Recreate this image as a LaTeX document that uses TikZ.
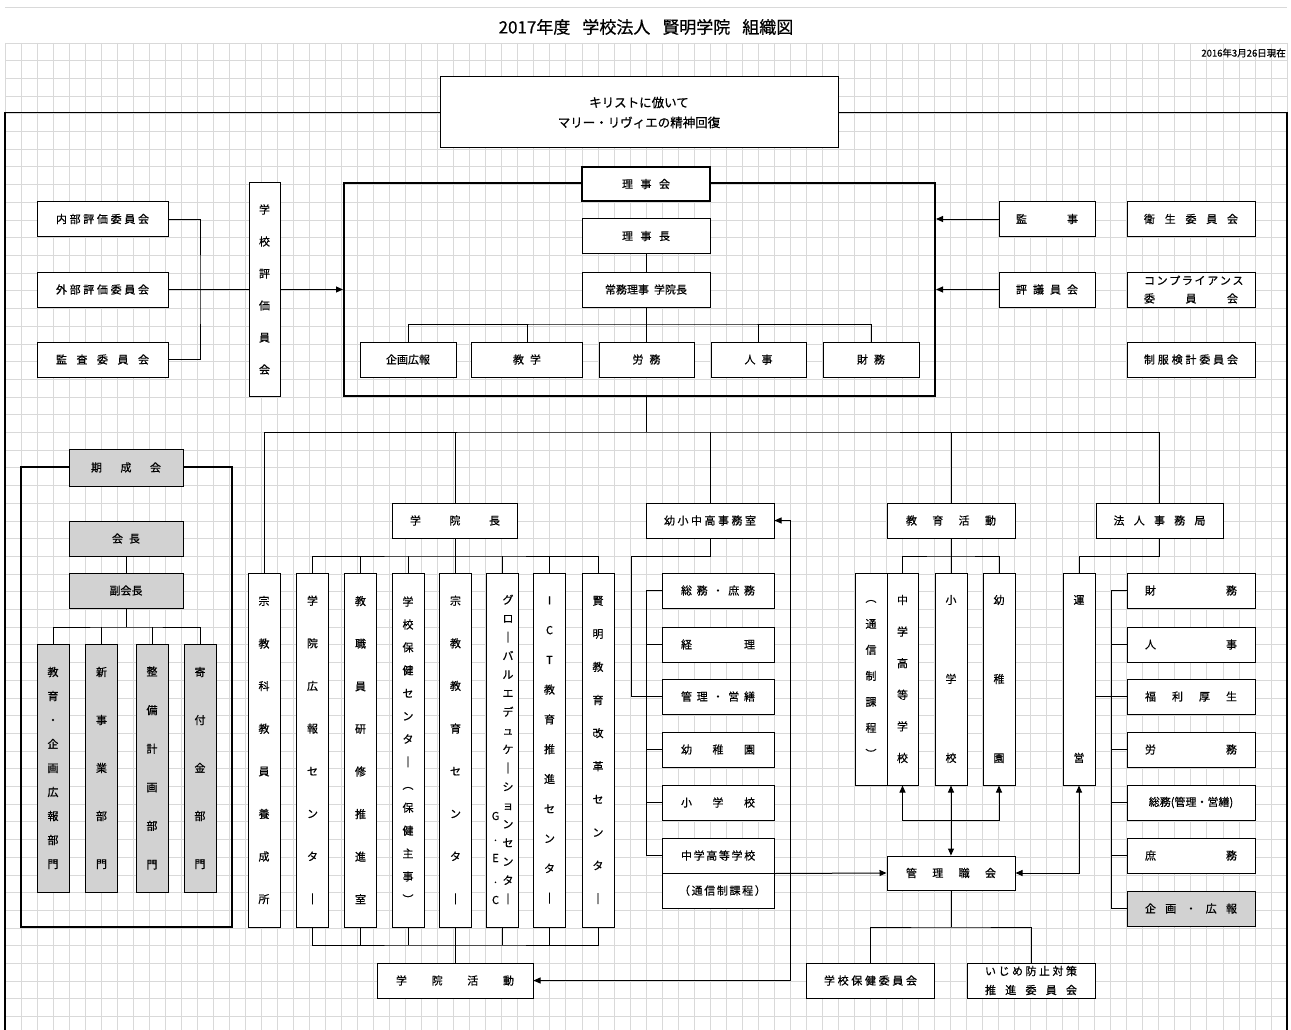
\documentclass[tikz,border=0pt]{standalone}
\usepackage{fontspec}
\setmainfont{Noto Sans CJK JP}[FakeBold=0.6]
\usepackage{tikz}
\usetikzlibrary{arrows.meta,calc}
\definecolor{cGrid}{HTML}{D9D9D9}
\definecolor{cShade}{HTML}{D2D2D2}
\newcommand{\spr}[2]{\makebox[#1][s]{#2}}
\tikzset{
  node-box/.style={draw,line width=1pt,fill=white,inner sep=0pt,align=center,
    minimum height=35pt,font=\fontsize{11}{14}\selectfont},
  node-bold/.style={node-box,line width=2pt},
  node-shade/.style={node-box,fill=cShade},
  node-frame/.style={draw,line width=2pt,inner sep=0pt},
  node-col/.style={node-box,minimum width=32pt},
  node-label/.style={inner sep=0pt,align=center},
  vt/.style={font=\fontsize{11}{#1}\selectfont},
  link/.style={line width=1pt},
  arrow/.style={link,-{Triangle[length=7pt,width=6pt]}},
  arrow-both/.style={link,{Triangle[length=7pt,width=6pt]}-{Triangle[length=7pt,width=6pt]}},
}

\begin{document}
\begin{tikzpicture}[x=1pt,y=-1pt]
  \useasboundingbox (0,0) rectangle (1291,1030);
  % grid
  \foreach \i in {0,...,80}
    \draw[cGrid,line width=0.8pt] ({5+16.025*\i},43) -- ({5+16.025*\i},1030);
  \foreach \j in {0,...,55}
    \draw[cGrid,line width=0.8pt] (5,{43+17.7*\j}) -- (1287,{43+17.7*\j});
  \draw[cGrid,line width=0.8pt] (5,7) -- (1287,7);

  % heading
  \node[node-label,font=\fontsize{17}{20}\selectfont] (title) at (646,27)
    {2017年度\hspace{12pt}学校法人\hspace{12pt}賢明学院\hspace{12pt}組織図};
  \node[node-label,font=\fontsize{9.5}{10}\selectfont,anchor=east] (date) at (1286,53)
    {2016年3月26日現在};
  \node[node-box,minimum width=398pt,minimum height=71pt,font=\fontsize{12.5}{20}\selectfont]
    (motto) at (639,112.5) {キリストに倣いて\\マリー・リヴィエの精神回復};
  \draw[line width=1.2pt] (motto.west) -- (5,112.5) -- (5,1030);
  \draw[line width=1.2pt] (motto.east) -- (1287,112.5) -- (1287,1030);

  % board
  \node[node-frame,minimum width=591pt,minimum height=213pt] (board) at (639.5,289.5) {};
  \node[node-bold,minimum width=128pt,minimum height=34pt] (rijikai) at (646,184) {\spr{48pt}{理 事 会}};
  \node[node-box,minimum width=128pt] (richo) at (646,236) {\spr{48pt}{理 事 長}};
  \node[node-box,minimum width=128pt] (jomu) at (646,289.5) {常務理事\hspace{5pt}学院長};
  \node[node-box,minimum width=96pt] (kikaku) at (408,359.5) {企画広報};
  \node[node-box,minimum width=111pt] (kyogaku) at (527,359.5) {\spr{28pt}{教 学}};
  \node[node-box,minimum width=95pt] (romu) at (646.5,359.5) {\spr{28pt}{労 務}};
  \node[node-box,minimum width=95pt] (jinji) at (758.5,359.5) {\spr{28pt}{人 事}};
  \node[node-box,minimum width=96pt] (zaimu) at (871,359.5) {\spr{28pt}{財 務}};
  \coordinate (jomu-bar) at (646,324);
  \draw[link] (richo) -- (jomu);
  \draw[link] (jomu.south) -- (jomu-bar);
  \draw[link] (kikaku.north) |- (jomu-bar) -| (zaimu.north);
  \foreach \n in {kyogaku,romu,jinji}
    \draw[link] (\n.north) -- (\n.north|-jomu-bar);

  % evaluation
  \node[node-box,minimum width=131pt] (naibu) at (102.5,219) {\spr{93pt}{内 部 評 価 委 員 会}};
  \node[node-box,minimum width=131pt] (gaibu) at (102.5,289.5) {\spr{93pt}{外 部 評 価 委 員 会}};
  \node[node-box,minimum width=131pt] (kansa) at (102.5,359.5) {\spr{93pt}{監 査 委 員 会}};
  \node[node-box,minimum width=31pt,minimum height=213pt,vt=32] (hyoka) at (264.5,289.5)
    {学\\校\\評\\価\\員\\会};
  \coordinate (hyoka-join) at (200,289.5);
  \draw[link] (naibu.east) -| (hyoka-join) |- (kansa.east);
  \draw[link] (gaibu.east) -- (hyoka.west);
  \draw[arrow] (hyoka.east) -- (board.west);

  % right side
  \node[node-box,minimum width=96pt] (kanji) at (1047,219) {\spr{62pt}{監 事}};
  \node[node-box,minimum width=96pt] (hyogi) at (1047,289.5) {\spr{62pt}{評 議 員 会}};
  \node[node-box,minimum width=128pt] (eisei) at (1191,219) {\spr{94pt}{衛 生 委 員 会}};
  \node[node-box,minimum width=128pt,font=\fontsize{11}{18}\selectfont] (compliance) at (1191,289.5)
    {\spr{94pt}{コ ン プ ラ イ ア ン ス}\\\spr{94pt}{委 員 会}};
  \node[node-box,minimum width=128pt] (seifuku) at (1191,359.5) {\spr{94pt}{制 服 検 計 委 員 会}};
  \draw[arrow] (kanji.west) -- (board.east|-kanji.west);
  \draw[arrow] (hyogi.west) -- (board.east|-hyogi.west);

  % second level
  \node[node-col,minimum height=354pt,vt=42.6] (shukyo) at (264,750)
    {宗\\教\\科\\教\\員\\養\\成\\所};
  \node[node-box,minimum width=125pt] (gakuincho) at (455,520.5) {\spr{90pt}{学 院 長}};
  \node[node-box,minimum width=128pt] (jimu) at (710,520.5) {\spr{92pt}{幼 小 中 高 事 務 室}};
  \node[node-box,minimum width=128pt] (kyoiku) at (951,520.5) {\spr{90pt}{教 育 活 動}};
  \node[node-box,minimum width=127pt] (hojin) at (1159.5,520.5) {\spr{92pt}{法 人 事 務 局}};
  \coordinate (bus) at (646,432);
  \draw[link] (bus|-board.south) -- (bus);
  \draw[link] (shukyo.north) |- (bus) -| (hojin.north);
  \foreach \n in {gakuincho,jimu,kyoiku}
    \draw[link] (\n.north) -- (\n.north|-bus);

  % gakuincho
  \node[node-col,minimum height=354pt,vt=42.6] (koho) at (312.5,750) {学\\院\\広\\報\\セ\\ン\\タ\\｜};
  \node[node-col,minimum height=354pt,vt=42.6] (kenshu) at (360.5,750) {教\\職\\員\\研\\修\\推\\進\\室};
  \node[node-col,minimum height=354pt,vt=22.9] (hokenc) at (408,750)
    {学\\校\\保\\健\\セ\\ン\\タ\\｜\\︵\\保\\健\\主\\事\\︶};
  \node[node-col,minimum height=354pt,vt=42.6] (shukyoc) at (455.5,750) {宗\\教\\教\\育\\セ\\ン\\タ\\｜};
  \node[node-col,minimum height=354pt] (gec) at (502.5,750) {};
  \node[node-label,vt=18.7] (gec-kana) at (508,749.5)
    {グ\\ロ\\｜\\バ\\ル\\エ\\デ\\ュ\\ケ\\｜\\シ\\ョ\\ン\\セ\\ン\\タ\\｜};
  \node[node-label,vt=21] (gec-abbr) at (495.5,858) {G\\.\\E\\.\\C};
  \node[node-col,minimum height=354pt,vt=29.8] (ict) at (549.5,750) {I\\C\\T\\教\\育\\推\\進\\セ\\ン\\タ\\｜};
  \node[node-col,minimum height=354pt,vt=33.1] (kaikaku) at (598,750) {賢\\明\\教\\育\\改\\革\\セ\\ン\\タ\\｜};
  \node[node-box,minimum width=156pt] (katsudo) at (455,980.5) {\spr{118pt}{学 院 活 動}};
  \coordinate (gk-bar) at (455,556);
  \coordinate (gk-low) at (455,945);
  \draw[link] (gakuincho.south) -- (gk-bar);
  \draw[link] (koho.north) |- (gk-bar) -| (kaikaku.north);
  \draw[link] (koho.south) |- (gk-low) -| (kaikaku.south);
  \foreach \n in {kenshu,hokenc,shukyoc,gec,ict} {
    \draw[link] (\n.north) -- (\n.north|-gk-bar);
    \draw[link] (\n.south) -- (\n.south|-gk-low);
  }
  \draw[link] (gk-low) -- (katsudo.north);

  % jimu
  \node[node-box,minimum width=112pt] (somu) at (718,590.5) {\spr{74pt}{総 務 ・ 庶 務}};
  \node[node-box,minimum width=112pt] (keiri) at (718,644.5) {\spr{74pt}{経 理}};
  \node[node-box,minimum width=112pt] (kanri) at (718,696.5) {\spr{74pt}{管 理 ・ 営 繕}};
  \node[node-box,minimum width=112pt] (yochien) at (718,749.5) {\spr{74pt}{幼 稚 園}};
  \node[node-box,minimum width=112pt] (shogakko) at (718,802.5) {\spr{74pt}{小 学 校}};
  \node[node-box,minimum width=112pt] (chugaku) at (718,855.5) {\spr{74pt}{中 学 高 等 学 校}};
  \node[node-box,minimum width=112pt] (tsushin) at (718,890.5) {\spr{78pt}{（ 通 信 制 課 程 ）}};
  \coordinate (jimu-turn) at (631,696.5);
  \coordinate (side-low) at (790,980.5);
  \draw[link] (jimu.south) -- ++(0,17.5) -| (jimu-turn) -- (kanri.west);
  \draw[link] (somu.west) -- ++(-15,0) |- (chugaku.west);
  \foreach \n in {keiri,kanri,yochien,shogakko}
    \draw[link] (\n.west) -- ++(-15,0);
  \draw[arrow-both] (jimu.east) -| (side-low) -- (katsudo.east);

  % kyoiku
  \node[node-col,minimum height=212pt,vt=26] (tsushin-k) at (871,679) {︵\\通\\信\\制\\課\\程\\︶};
  \node[node-col,minimum width=31pt,minimum height=212pt,vt=31.6] (chuko) at (902.5,679) {中\\学\\高\\等\\学\\校};
  \node[node-col,minimum height=212pt,vt=79] (sho) at (951,679) {小\\学\\校};
  \node[node-col,minimum height=212pt,vt=79] (yochi) at (999,679) {幼\\稚\\園};
  \node[node-box,minimum width=128pt,minimum height=34pt] (kanrishoku) at (951,873) {\spr{90pt}{管 理 職 会}};
  \coordinate (ky-bar) at (951,556);
  \coordinate (ky-low) at (951,820);
  \draw[link] (kyoiku.south) -- (ky-bar);
  \draw[link] (chuko.north) |- (ky-bar) -| (yochi.north);
  \draw[link] (sho.north) -- (ky-bar);
  \draw[arrow] (ky-low) -| (chuko.south);
  \draw[arrow] (ky-low) -| (yochi.south);
  \draw[arrow-both] (sho.south) -- (kanrishoku.north);
  \draw[arrow] (chugaku.south east) -- (kanrishoku.west);

  % hojin
  \node[node-col,minimum height=212pt,vt=158] (unei) at (1079,679) {運\\営};
  \node[node-box,minimum width=128pt] (r-zaimu) at (1191,590.5) {\spr{92pt}{財 務}};
  \node[node-box,minimum width=128pt] (r-jinji) at (1191,644.5) {\spr{92pt}{人 事}};
  \node[node-box,minimum width=128pt] (r-fukuri) at (1191,696.5) {\spr{92pt}{福 利 厚 生}};
  \node[node-box,minimum width=128pt] (r-romu) at (1191,749.5) {\spr{92pt}{労 務}};
  \node[node-box,minimum width=128pt] (r-somu) at (1191,802.5) {総務(管理・営繕)};
  \node[node-box,minimum width=128pt] (r-shomu) at (1191,855.5) {\spr{92pt}{庶 務}};
  \node[node-shade,minimum width=128pt] (r-kikaku) at (1191,908.5) {\spr{92pt}{企 画 ・ 広 報}};
  \draw[link] (hojin.south) -- ++(0,17.5) -| (unei.north);
  \draw[link] (r-zaimu.west) -- ++(-15,0) |- (r-kikaku.west);
  \foreach \n in {r-jinji,r-fukuri,r-romu,r-somu,r-shomu}
    \draw[link] (\n.west) -- ++(-15,0);
  \draw[link] (unei.east|-r-fukuri.west) -- (r-fukuri.west);
  \draw[arrow-both] (kanrishoku.east) -| (unei.south);

  % committees below
  \node[node-box,minimum width=128pt] (hoken) at (870.5,980.5) {\spr{93pt}{学 校 保 健 委 員 会}};
  \node[node-box,minimum width=128pt,font=\fontsize{11}{19}\selectfont] (ijime) at (1031,980.5)
    {\spr{92pt}{い じ め 防 止 対 策}\\\spr{92pt}{推 進 委 員 会}};
  \coordinate (kr-bar) at (951,927);
  \draw[link] (kanrishoku.south) -- (kr-bar);
  \draw[link] (hoken.north) |- (kr-bar) -| (ijime.north);

  % kiseikai
  \node[node-frame,minimum width=211pt,minimum height=460pt] (kisei-frame) at (126.5,697) {};
  \node[node-shade,minimum width=114pt,minimum height=37pt] (kiseikai) at (126,467.5) {\spr{70pt}{期 成 会}};
  \node[node-shade,minimum width=114pt] (kaicho) at (126,538.5) {\spr{28pt}{会 長}};
  \node[node-shade,minimum width=114pt] (fukukaicho) at (126,590.5) {副会長};
  \node[node-shade,minimum width=32pt,minimum height=248pt,vt=24] (ks-kyoiku) at (53,768)
    {教\\育\\・\\企\\画\\広\\報\\部\\門};
  \node[node-shade,minimum width=32pt,minimum height=248pt,vt=48] (ks-jigyo) at (101.5,768)
    {新\\事\\業\\部\\門};
  \node[node-shade,minimum width=32pt,minimum height=248pt,vt=38.6] (ks-seibi) at (152,768)
    {整\\備\\計\\画\\部\\門};
  \node[node-shade,minimum width=32pt,minimum height=248pt,vt=48] (ks-kifu) at (200,768)
    {寄\\付\\金\\部\\門};
  \coordinate (ks-bar) at (126,627);
  \draw[link] (kaicho) -- (fukukaicho);
  \draw[link] (fukukaicho.south) -- (ks-bar);
  \draw[link] (ks-kyoiku.north) |- (ks-bar) -| (ks-kifu.north);
  \foreach \n in {ks-jigyo,ks-seibi}
    \draw[link] (\n.north) -- (\n.north|-ks-bar);
\end{tikzpicture}
\end{document}
